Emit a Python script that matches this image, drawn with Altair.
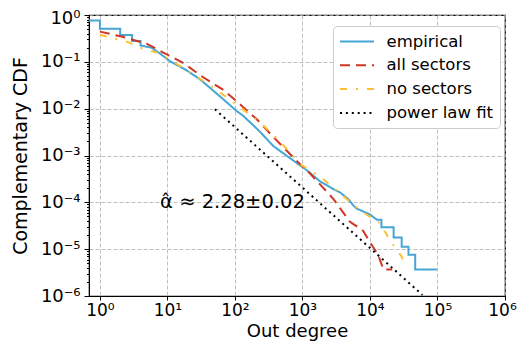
import altair as alt
import pandas as pd

series_names = ["empirical", "all sectors", "no sectors", "power law fit"]
series_colors = ["#45a6d4", "#cf3626", "#fcbf33", "#000000"]
series_dashes = [[1, 0], [10, 6], [7, 9, 2, 9], [2, 3.9]]

emp_x = [0.5, 1, 1, 2, 2, 3, 3, 4, 4, 5.83, 7.74, 11.0, 18.2, 30.2, 60.3, 106, 132, 234, 372,
         1148, 1820, 2884, 3631, 4786, 5623, 6310, 10000, 12600, 14800, 14800, 22400, 22400,
         29500, 29500, 37200, 37200, 46800, 46800, 97700]
emp_y = [0.764, 0.764, 0.509, 0.509, 0.372, 0.372, 0.280, 0.280, 0.224, 0.200, 0.151, 0.102,
         0.0692, 0.0427, 0.0182, 0.00891, 0.00708, 0.00324, 0.00158,
         0.00049, 0.000282, 0.000191, 0.000162, 0.000117, 8.7e-5, 7.4e-5, 5.5e-5, 4.27e-5,
         4.27e-5, 2.95e-5, 2.95e-5, 1.78e-5, 1.78e-5, 1.12e-5, 1.12e-5, 7.6e-6, 7.6e-6,
         3.7e-6, 3.7e-6]

all_x = [1, 2.09, 4.9, 8.7, 17, 33.9, 67.6, 105, 209, 331, 813, 1288, 2884, 5012, 7943,
         10000, 13200, 15800, 21400]
all_y = [0.442, 0.347, 0.245, 0.158, 0.0955, 0.0468, 0.0251, 0.0145, 0.00603, 0.00295,
         0.000776, 0.000417, 0.000117, 3.9e-5, 2.45e-5, 1.41e-5, 7.6e-6, 3.7e-6, 3.7e-6]

no_x = [1, 2.63, 3.89, 7.76, 17, 42.7, 105, 234, 468, 912, 1820, 3981, 7079, 14100, 20000,
        29500, 33100]
no_y = [0.380, 0.263, 0.200, 0.151, 0.0741, 0.0316, 0.0123, 0.00513, 0.002, 0.00066,
        0.000355, 0.000138, 6.8e-5, 3.6e-5, 1.51e-5, 6.9e-6, 4.4e-6]

fit_x = [50.6, 60000]
fit_y = [0.0097, 1.05e-6]

x_ticks = [1, 10, 100, 1000, 1e4, 1e5, 1e6]
y_ticks = []
for d in [1e-6, 1e-5, 1e-4, 1e-3, 1e-2, 1e-1]:
    y_ticks += [d * k for k in range(1, 10)]
y_ticks.append(1)

annot_text = ["α̂ ≈ 2.28±0.02"]
annot_x = [92]
annot_y = [1e-4]

rows = []
for name, xs, ys in zip(series_names, [emp_x, all_x, no_x, fit_x], [emp_y, all_y, no_y, fit_y]):
    for i, (xv, yv) in enumerate(zip(xs, ys)):
        rows.append({"series": name, "x": xv, "y": yv, "idx": i})
df = pd.DataFrame(rows)
annot = pd.DataFrame({"x": annot_x, "y": annot_y, "t": annot_text})

FONT = "DejaVu Sans"
LOGE = "round(log(datum.value)/LN10)"
label_expr = ("abs(log(datum.value)/LN10 - " + LOGE + ") > 0.001 ? '' : '10' + (" + LOGE +
              " < 0 ? '⁻' : '') + ['⁰','¹','²','³','⁴','⁵','⁶'][abs(" + LOGE + ")]")
major_test = "abs(log(datum.value)/LN10 - round(log(datum.value)/LN10)) < 0.001"

legend = alt.Legend(
    title=None, orient="none", legendX=244, legendY=11,
    symbolType="M-2,0H2", symbolSize=289, symbolStrokeWidth=2, symbolOffset=8.5,
    labelFont=FONT, labelFontSize=16.5, labelColor="black",
    padding=6, rowPadding=5.8, labelOffset=20, cornerRadius=4,
    strokeColor="#cccccc", fillColor="#ffffff",
)

xscale = alt.Scale(type="log", domain=[0.69, 1e6], nice=False)
yscale = alt.Scale(type="log", domain=[1e-6, 1], nice=False)

axis_common = dict(
    grid=True, gridDash=[4, 2], gridColor="#b0b0b0", gridWidth=0.8,
    labelFont=FONT, labelColor="black", labelOverlap=False,
    labelFlush=False, titleFont=FONT, titleFontWeight="normal",
    titleColor="black", domainColor="black", tickColor="black", labelExpr=label_expr,
)

lines = alt.Chart(df).mark_line(clip=True, strokeWidth=2).encode(
    x=alt.X("x:Q", scale=xscale,
            axis=alt.Axis(values=x_ticks, title="Out degree", tickSize=4, labelPadding=2,
                          labelFontSize=17, titleFontSize=18, titlePadding=4,
                          labelOffset={"condition": {"test": "datum.value >= 999999", "value": -3}, "value": 0},
                          **axis_common)),
    y=alt.Y("y:Q", scale=yscale,
            axis=alt.Axis(values=y_ticks, title="Complementary CDF",
                          labelFontSize=18, titleFontSize=19,
                          tickSize={"condition": {"test": major_test, "value": 5}, "value": 2.5},
                          gridOpacity={"condition": {"test": major_test, "value": 1}, "value": 0},
                          labelOffset={"condition": {"test": "datum.value >= 0.999", "value": 3}, "value": 0},
                          labelPadding=4, titlePadding=10, **axis_common)),
    color=alt.Color("series:N", scale=alt.Scale(domain=series_names, range=series_colors),
                    legend=legend),
    strokeDash=alt.StrokeDash("series:N", scale=alt.Scale(domain=series_names, range=series_dashes),
                              legend=legend),
    order=alt.Order("idx:Q"),
)

text = alt.Chart(annot).mark_text(font=FONT, fontSize=19.5, align="center", baseline="middle",
                                  color="black").encode(
    x=alt.X("x:Q", scale=xscale),
    y=alt.Y("y:Q", scale=yscale),
    text="t:N",
)

chart = alt.layer(lines, text).properties(
    width=416, height=281,
    padding={"left": 81, "top": 7, "right": 12, "bottom": 45},
    autosize=alt.AutoSizeParams(type="none"),
).configure_view(stroke="black", strokeWidth=1.2)

chart.save("out.html", embed_options={"renderer": "svg", "actions": False})
